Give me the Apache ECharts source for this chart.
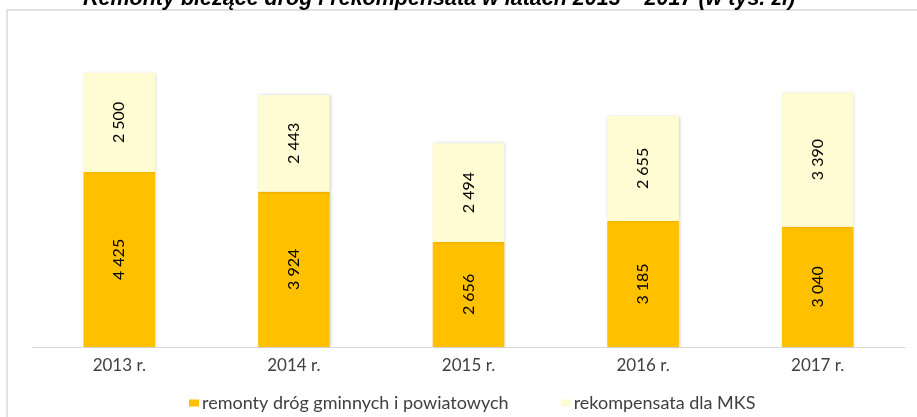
<!DOCTYPE html>
<html>
<head>
<meta charset="utf-8">
<script src="https://cdn.jsdelivr.net/npm/echarts@6/dist/echarts.min.js"></script>
<style>
	html, body { margin: 0; padding: 0; background: #fff; }
	#chart { width: 917px; height: 417px; }
</style>
</head>
<body>
<div id="chart"></div>
<script>
var years = ['2013 r.', '2014 r.', '2015 r.', '2016 r.', '2017 r.'];
var remonty = [4425, 3924, 2656, 3185, 3040];
var rekompensata = [2500, 2443, 2494, 2655, 3390];
var seriesNames = ['remonty dróg gminnych i powiatowych', 'rekompensata dla MKS'];

function formatNumber(v) {
	// separator tysięcy jako spacja
	return String(v).replace(/\B(?=(\d{3})+(?!\d))/g, ' ');
}

function initBar(divName) {
	var dom = document.getElementById(divName);
	var myChart = echarts.init(dom);
	var font = 'Lato, "Open Sans", sans-serif';

	var label = {
		show: true,
		position: 'inside',
		rotate: 90,
		color: '#000',
		fontFamily: font,
		fontSize: 16,
		formatter: function (p) { return formatNumber(p.value); }
	};
	var shadow = {
		shadowColor: 'rgba(0,0,0,0.18)',
		shadowBlur: 3,
		shadowOffsetX: 1,
		shadowOffsetY: 0
	};

	var option = {
		animation: false,
		backgroundColor: '#fff',
		title: {
			text: 'Remonty bieżące dróg i rekompensata w latach 2013 – 2017 (w tys. zł)',
			left: 78,
			top: -17,
			textStyle: {
				fontFamily: '"Liberation Sans", Arial, sans-serif',
				fontSize: 21.5,
				fontWeight: 'bold',
				fontStyle: 'italic',
				color: '#000'
			}
		},
		graphic: [
			{
				type: 'rect',
				shape: { x: 7, y: 10, width: 930, height: 430 },
				style: { fill: 'none', stroke: '#d9d9d9', lineWidth: 1.5 },
				z: -1
			}
		],
		legend: {
			left: 184,
			top: 389,
			itemWidth: 10,
			itemHeight: 7,
			itemGap: 52,
			icon: 'rect',
			textStyle: {
				fontFamily: font,
				fontSize: 18,
				color: '#404040',
				padding: [0, 0, 0, -2]
			},
			data: seriesNames
		},
		grid: {
			left: 32,
			right: 12,
			top: 70,
			bottom: 70
		},
		xAxis: [
			{
				type: 'category',
				data: years,
				axisTick: { show: false },
				axisLine: { lineStyle: { color: '#d9d9d9', width: 1 } },
				axisLabel: {
					margin: 10,
					fontFamily: font,
					fontSize: 17,
					color: '#404040'
				}
			}
		],
		yAxis: [
			{
				type: 'value',
				min: 0,
				max: 7000,
				show: false
			}
		],
		series: [
			{
				name: seriesNames[0],
				type: 'bar',
				stack: 'suma',
				barWidth: '41%',
				itemStyle: Object.assign({ color: '#FFC000' }, shadow),
				label: label,
				data: remonty
			},
			{
				name: seriesNames[1],
				type: 'bar',
				stack: 'suma',
				barWidth: '41%',
				itemStyle: Object.assign({ color: '#FFFBD3' }, shadow),
				label: label,
				data: rekompensata
			}
		]
	};

	if (option && typeof option === "object") {
		myChart.setOption(option, true);
	}
}

initBar('chart');
</script>
</body>
</html>
